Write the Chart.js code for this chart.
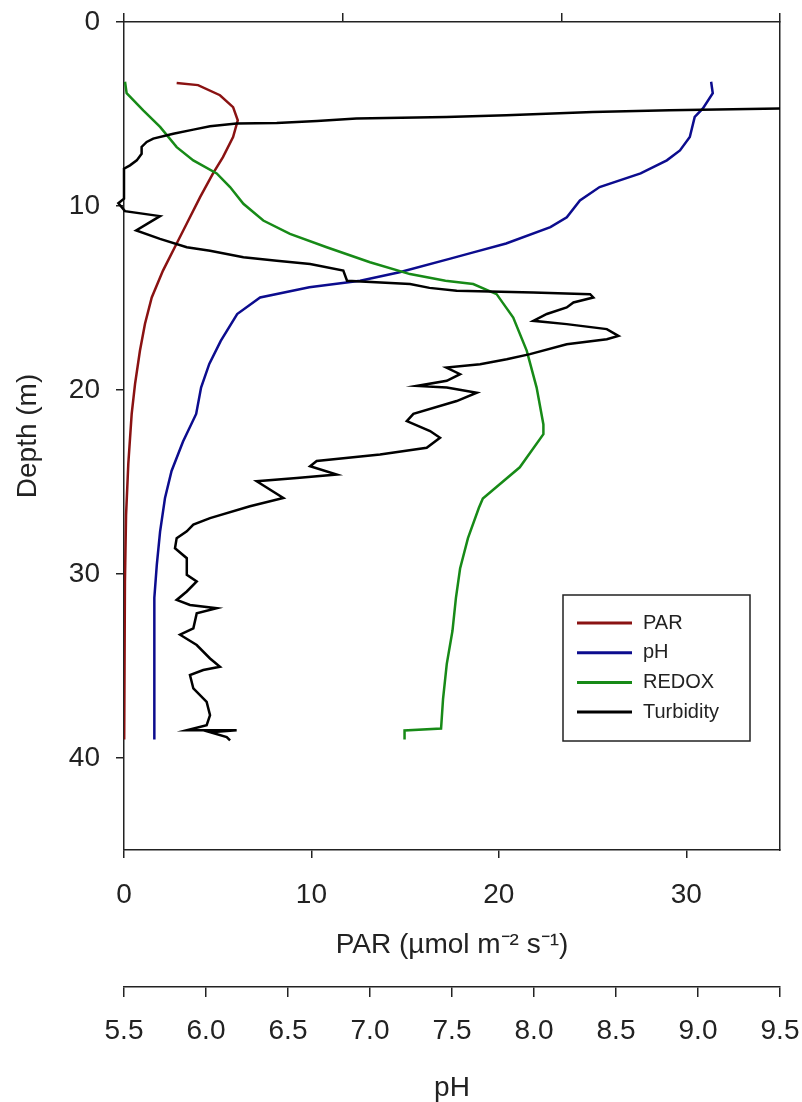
<!DOCTYPE html>
<html>
<head>
<meta charset="utf-8">
<script src="https://cdn.jsdelivr.net/npm/chart.js"></script>
<style>body{margin:0;background:#fff}</style>
</head>
<body>
<canvas id="profileChart" width="802" height="1102"></canvas>
<script>
// depth (m) for each profile
const parDepth = [3.31, 3.43, 3.98, 4.63, 5.34, 6.25, 7.34, 8.23, 9.52, 10.95, 12.04, 13.51, 14.97, 16.4, 17.87, 19.67, 21.3, 24.0, 26.8, 30.4, 35.0, 39.0];
const parValue = [2.81, 3.95, 5.12, 5.82, 6.07, 5.82, 5.28, 4.75, 4.06, 3.35, 2.81, 2.08, 1.48, 1.12, 0.85, 0.59, 0.41, 0.23, 0.11, 0.05, 0.02, 0.0];

const phDepth = [3.25, 3.87, 4.7, 5.16, 6.25, 6.98, 7.52, 8.23, 8.97, 9.7, 10.61, 11.15, 12.04, 12.52, 12.86, 13.6, 14.06, 14.42, 14.97, 15.87, 17.33, 18.58, 19.87, 21.3, 22.8, 24.4, 25.87, 27.7, 29.5, 31.3, 34.9, 38.4, 39.0];
const phValue = [9.08, 9.09, 9.03, 8.98, 8.95, 8.89, 8.81, 8.65, 8.40, 8.28, 8.2, 8.1, 7.83, 7.63, 7.49, 7.18, 6.94, 6.63, 6.33, 6.19, 6.09, 6.02, 5.97, 5.94, 5.86, 5.79, 5.75, 5.72, 5.70, 5.685, 5.685, 5.685, 5.685];

const redoxDepth = [3.25, 3.87, 4.8, 5.7, 6.8, 7.52, 8.23, 8.97, 9.88, 10.79, 11.52, 12.24, 13.06, 13.7, 14.06, 14.24, 14.79, 16.06, 17.87, 19.87, 21.87, 22.4, 24.2, 25.9, 26.4, 28.05, 29.7, 31.3, 33.1, 34.9, 36.8, 38.4, 38.5, 39.0];
const redoxValue = [0.46, 1.2, 8.8, 16.5, 24.1, 31.7, 42.4, 48.5, 54.6, 63.7, 75.9, 92.7, 112.5, 130.8, 147, 159.7, 170.4, 178, 184.2, 188.7, 191.8, 191.8, 181, 164.1, 162.3, 157.3, 153.7, 151.8, 150.2, 147.6, 145.9, 145, 128.3, 128.3];

const turbDepth = [4.62, 4.70, 4.80, 4.89, 5.07, 5.16, 5.25, 5.38, 5.49, 5.52, 5.67, 5.85, 6.07, 6.34, 6.52, 6.79, 7.16, 7.52, 7.79, 7.97, 9.6, 9.85, 10.28, 10.55, 11.33, 11.79, 12.24, 12.43, 12.79, 12.97, 13.15, 13.51, 14.06, 14.24, 14.45, 14.6, 14.7, 14.79, 14.97, 15.24, 15.51, 15.87, 16.24, 16.42, 16.69, 17.06, 17.24, 17.51, 18.05, 18.33, 18.6, 18.78, 19.14, 19.5, 19.78, 19.87, 20.15, 20.6, 21.3, 21.69, 22.23, 22.6, 23.14, 23.5, 23.86, 24.14, 24.59, 24.78, 24.96, 25.87, 26.32, 26.96, 27.32, 27.68, 28.05, 28.6, 29.14, 30.04, 30.4, 30.95, 31.41, 31.68, 31.86, 32.14, 32.95, 33.3, 33.86, 34.59, 35.04, 35.22, 35.49, 36.22, 36.95, 37.67, 38.22, 38.49, 38.49, 38.6, 38.86, 39.04];
const turbValue = [38, 35, 29.1, 25.0, 20.4, 17.2, 12.4, 10.3, 8.15, 6.0, 4.59, 3.7, 2.63, 1.56, 1.21, 0.94, 0.94, 0.68, 0.32, 0.0, 0.0, -0.3, 0.05, 1.92, 0.65, 1.92, 3.35, 4.59, 6.37, 8.15, 9.93, 11.7, 11.9, 15.26, 16.3, 17.75, 21.84, 24.87, 25.04, 23.98, 23.62, 22.56, 21.84, 23.62, 25.76, 26.38, 25.76, 23.62, 21.66, 20.42, 19.0, 17.2, 17.93, 17.22, 15.62, 17.22, 18.82, 17.75, 15.44, 15.09, 16.33, 16.86, 16.15, 13.66, 10.28, 9.93, 11.35, 9.22, 7.08, 8.5, 6.72, 4.59, 3.70, 3.35, 2.81, 2.72, 3.35, 3.35, 3.88, 3.35, 2.81, 3.52, 4.95, 3.88, 3.70, 2.99, 3.88, 4.59, 5.12, 4.23, 3.52, 3.70, 4.41, 4.59, 4.41, 3.35, 6.01, 4.6, 5.48, 5.66];

const depthTicks = [0, 10, 20, 30, 40];
const parTicks = [0, 10, 20, 30];

const pts = (xs, ys) => xs.map((v, i) => ({ x: v, y: ys[i] }));

const font = { family: '"Liberation Sans", Arial, sans-serif', size: 28 };
const titleFont = { family: '"Liberation Sans", Arial, sans-serif', size: 28, lineHeight: 1 };
const ink = '#222';

// keep the plot box fixed; labels may spill into the margins
const noPad = s => { s.paddingTop = 0; s.paddingBottom = 0; s.paddingLeft = 0; s.paddingRight = 0; };

// legend box drawn inside the plot, as in the figure
const legendBox = {
    id: 'legendBox',
    afterDraw(chart) {
        const ctx = chart.ctx;
        const x0 = 563, y0 = 595, w = 187, h = 146;
        ctx.save();
        ctx.fillStyle = '#fff';
        ctx.fillRect(x0, y0, w, h);
        ctx.strokeStyle = ink;
        ctx.lineWidth = 1.5;
        ctx.strokeRect(x0, y0, w, h);
        ctx.font = '20px "Liberation Sans", Arial, sans-serif';
        ctx.textBaseline = 'middle';
        const order = [3, 2, 1, 0];
        chart.data.datasets.forEach((ds, i) => {
            const row = y0 + 28 + order[i] * 29.7;
            ctx.strokeStyle = ds.borderColor;
            ctx.lineWidth = 3;
            ctx.beginPath();
            ctx.moveTo(x0 + 14, row);
            ctx.lineTo(x0 + 69, row);
            ctx.stroke();
            ctx.fillStyle = ink;
            ctx.fillText(ds.label, x0 + 80, row);
        });
        ctx.restore();
    }
};

const ctx = document.getElementById('profileChart').getContext('2d');
const profileChart = new Chart(ctx, {
    type: 'scatter',
    data: {
        datasets: [
            { label: 'Turbidity', data: pts(turbValue, turbDepth), xAxisID: 'xt', borderColor: '#000000',
              clip: { left: 8, top: 0, right: 0, bottom: 0 } },
            { label: 'REDOX', data: pts(redoxValue, redoxDepth), xAxisID: 'xr', borderColor: '#178a17' },
            { label: 'pH', data: pts(phValue, phDepth), xAxisID: 'xph', borderColor: '#0c0c8e' },
            { label: 'PAR', data: pts(parValue, parDepth), xAxisID: 'x', borderColor: '#8a1212' }
        ]
    },
    options: {
        responsive: false,
        animation: false,
        devicePixelRatio: 1,
        showLine: true,
        layout: { padding: { right: 22 } },
        elements: {
            point: { radius: 0, hoverRadius: 0 },
            line: { borderWidth: 2.5, tension: 0, fill: false }
        },
        plugins: { legend: { display: false }, tooltip: { enabled: false } },
        scales: {
            x: {
                type: 'linear', position: 'bottom', weight: 0, min: 0, max: 35,
                ticks: { stepSize: 10, font: font, color: ink, padding: 20 },
                afterBuildTicks: s => { s.ticks = parTicks.map(v => ({ value: v })); },
                grid: { drawOnChartArea: false, tickLength: 8, color: ink, lineWidth: 1.5 },
                border: { color: ink, width: 1.5 },
                title: { display: true, text: 'PAR (µmol m⁻² s⁻¹)', font: titleFont, color: ink, padding: { top: 0, bottom: 28 } },
                afterFit: s => { s.height = 137; noPad(s); }
            },
            xph: {
                type: 'linear', position: 'bottom', weight: 1, min: 5.5, max: 9.5,
                ticks: { stepSize: 0.5, font: font, color: ink, padding: 17, callback: v => v.toFixed(1) },
                grid: { drawOnChartArea: false, tickLength: 10, color: ink, lineWidth: 1.5 },
                border: { color: ink, width: 1.5 },
                title: { display: true, text: 'pH', font: titleFont, color: ink, padding: { top: 0, bottom: 0 } },
                afterFit: s => { s.height = 115; noPad(s); }
            },
            xr: {
                type: 'linear', position: 'top', min: 0, max: 300,
                ticks: { stepSize: 100, display: false },
                grid: { drawOnChartArea: false, tickLength: 9, color: ink, lineWidth: 1.5 },
                border: { color: ink, width: 1.5 },
                afterFit: s => { s.height = 22; noPad(s); }
            },
            xt: { type: 'linear', display: false, min: 0, max: 35 },
            y: {
                type: 'linear', position: 'left', reverse: true, min: 0, max: 45,
                ticks: { stepSize: 10, font: font, color: ink, padding: 16 },
                afterBuildTicks: s => { s.ticks = depthTicks.map(v => ({ value: v })); },
                grid: { drawOnChartArea: false, tickLength: 8, color: ink, lineWidth: 1.5 },
                border: { color: ink, width: 1.5 },
                title: { display: true, text: 'Depth (m)', font: titleFont, color: ink, padding: { top: 14, bottom: 0 } },
                afterFit: s => { s.width = 124; noPad(s); }
            },
            yr: {
                type: 'linear', position: 'right', reverse: true, min: 0, max: 45,
                ticks: { display: false },
                grid: { drawOnChartArea: false, drawTicks: false },
                border: { color: ink, width: 1.5 },
                afterFit: s => { s.width = 0; noPad(s); }
            }
        }
    },
    plugins: [legendBox]
});
</script>
</body>
</html>
